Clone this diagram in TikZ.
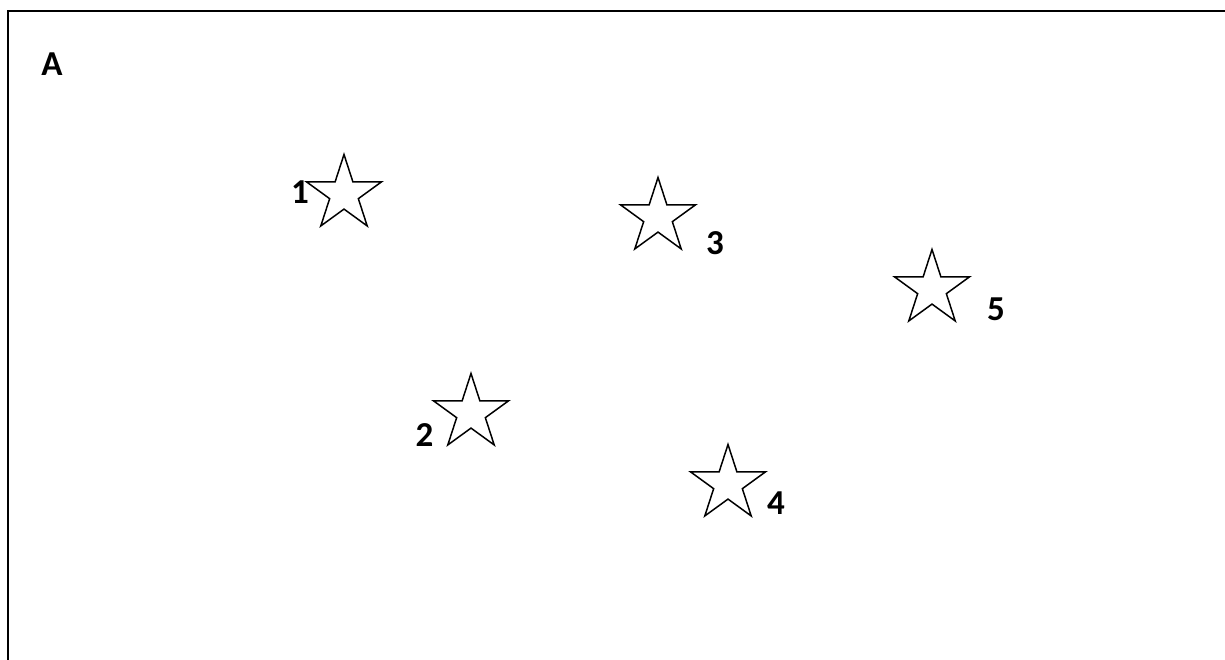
\documentclass[tikz,border=0pt]{standalone}
\usepackage{fontspec}
\setmainfont{Carlito}
\usetikzlibrary{shapes.geometric}
\tikzset{
  starnode/.style={star, star points=5, star point ratio=2.618, minimum size=79pt, inner sep=0pt, draw=black, line width=1.5pt, fill=white},
  lab/.style={font=\fontsize{35pt}{40pt}\selectfont\bfseries, inner sep=0pt, anchor=center},
  frame/.style={draw=black, line width=2pt}
}
\begin{document}
\begin{tikzpicture}[x=1pt, y=-1pt]
\useasboundingbox (0,0) rectangle (1225,659);
\clip (0,0) rectangle (1225,659);
\fill[white] (0,0) rectangle (1225,659);
\draw[frame] (8,10.5) rectangle (1245,690);
\node[lab] (lA) at (52,64) {A};
\node[starnode] (s1) at (344,194) {};
\node[starnode] (s3) at (658,217) {};
\node[starnode] (s5) at (932,289) {};
\node[starnode] (s2) at (471,413) {};
\node[starnode] (s4) at (728,484) {};
\node[lab] (l1) at (300,192) {1};
\node[lab] (l3) at (715,243) {3};
\node[lab] (l5) at (996,309) {5};
\node[lab] (l2) at (424.5,435) {2};
\node[lab] (l4) at (776,503) {4};
\end{tikzpicture}
\end{document}
